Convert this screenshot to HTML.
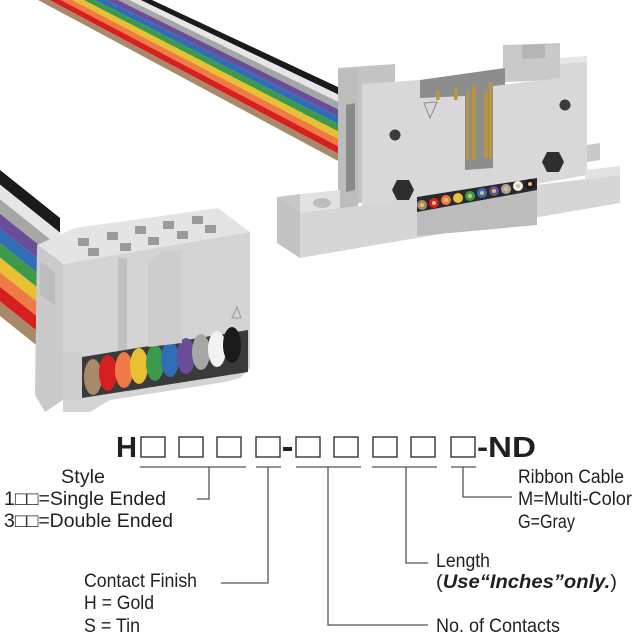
<!DOCTYPE html>
<html><head><meta charset="utf-8"><style>
html,body{margin:0;padding:0;background:#fff;}
svg{display:block;}
text{font-family:"Liberation Sans",Arial,sans-serif;fill:#231f20;}
</style></head><body>
<svg width="640" height="640" viewBox="0 0 640 640" xmlns="http://www.w3.org/2000/svg">
<!-- top cable -->
<g>
<polygon points="152,0 140.6,0 340,95.4 340,88" fill="#1a1a1a"/>
<polygon points="140.6,0 129.2,0 340,102.8 340,95.4" fill="#e6e6e6"/>
<polygon points="129.2,0 117.8,0 340,110.2 340,102.8" fill="#a6a6a6"/>
<polygon points="117.8,0 106.4,0 340,117.6 340,110.2" fill="#6b4c9a"/>
<polygon points="106.4,0 95,0 340,125 340,117.6" fill="#2f6db5"/>
<polygon points="95,0 83.6,0 340,132.4 340,125" fill="#3d9a4a"/>
<polygon points="83.6,0 72.2,0 340,139.8 340,132.4" fill="#e8c132"/>
<polygon points="72.2,0 60.8,0 340,147.2 340,139.8" fill="#ef7a45"/>
<polygon points="60.8,0 49.4,0 340,154.6 340,147.2" fill="#d81f1f"/>
<polygon points="49.4,0 38,0 340,162 340,154.6" fill="#a88a6a"/>
</g>
<!-- lower cable -->
<g>
<polygon points="0,170 0,184.6 60,232.6 60,218" fill="#1a1a1a"/>
<polygon points="0,184.6 0,199.2 60,247.2 60,232.6" fill="#e6e6e6"/>
<polygon points="0,199.2 0,213.8 60,261.8 60,247.2" fill="#a6a6a6"/>
<polygon points="0,213.8 0,228.4 60,276.4 60,261.8" fill="#6b4c9a"/>
<polygon points="0,228.4 0,243 60,291 60,276.4" fill="#2f6db5"/>
<polygon points="0,243 0,257.6 60,305.6 60,291" fill="#3d9a4a"/>
<polygon points="0,257.6 0,272.2 60,320.2 60,305.6" fill="#e8c132"/>
<polygon points="0,272.2 0,286.8 60,334.8 60,320.2" fill="#ef7a45"/>
<polygon points="0,286.8 0,301.4 60,349.4 60,334.8" fill="#d81f1f"/>
<polygon points="0,301.4 0,316 60,364 60,349.4" fill="#a88a6a"/>
</g>

<!-- right connector -->
<g>
<!-- right tower back -->
<polygon points="503,45 560,43 560,80 503,82" fill="#c9c9c9"/>
<polygon points="522,45 545,44 545,58 522,59" fill="#b5b5b5"/>
<!-- slot back wall -->
<polygon points="420,80 505,68 505,170 420,170" fill="#8d8d8d"/>
<!-- left tower -->
<polygon points="338,68 395,64 395,200 338,205" fill="#c4c4c4"/>
<polygon points="338,70 358,69 358,215 338,218" fill="#bdbdbd"/>
<polygon points="346,105 355,103 355,190 346,192" fill="#8a8a8a"/>
<!-- main front face -->
<polygon points="362,84 420,80 420,98 465,96 465,168 493,166 493,86 560,78 560,58 587,56 587,175 362,215" fill="#d8d8d8"/>
<polygon points="560,58 587,56 587,62 560,64" fill="#e6e6e6"/>
<!-- triangle -->
<polygon points="424,103 437,102 430,118" fill="none" stroke="#8a8a8a" stroke-width="1"/>
<!-- pins -->
<g fill="#b8953e">
<rect x="436" y="90" width="3.5" height="10"/><rect x="454" y="88" width="3.5" height="12"/>
<rect x="472" y="85" width="4" height="80"/><rect x="484" y="92" width="4" height="70"/>
<rect x="489" y="82" width="3.5" height="80"/><rect x="466" y="92" width="3" height="73"/>
</g>
<polygon points="465,160 493,158 493,168 465,170" fill="#8d8d8d"/>
<!-- holes -->
<circle cx="395" cy="135" r="5.5" fill="#3a3a3a"/>
<circle cx="565" cy="105" r="5.5" fill="#3a3a3a"/>
<polygon points="397,180 409,180 414,190 409,200 397,200 392,190" fill="#2e2e2e"/>
<polygon points="547,152 559,152 564,162 559,172 547,172 542,162" fill="#2e2e2e"/>
<!-- right flange riser -->
<polygon points="587,145 600,143 600,160 587,162" fill="#c8c8c8"/>
<!-- flange -->
<polygon points="277,197 300,194 300,240 277,243" fill="#c7c7c7"/>
<polygon points="300,194 340,190 340,210 300,213" fill="#e2e2e2"/>
<polygon points="300,213 620,175 620,203 300,258" fill="#d6d6d6"/>
<polygon points="300,213 277,197 277,243 300,258" fill="#c2c2c2"/>
<ellipse cx="322" cy="203" rx="9" ry="5" fill="#bdbdbd"/>
<polygon points="585,170 620,166 620,175 585,180" fill="#e2e2e2"/>
<!-- wire window -->
<polygon points="417,197 537,178 537,225 417,236" fill="#bcbcbc"/>
<polygon points="417,197 537,178 537,190 417,212" fill="#2a2a2a"/>
<g>
<circle cx="422" cy="205" r="5" fill="#a88a6a"/><circle cx="434" cy="203" r="5" fill="#d81f1f"/>
<circle cx="446" cy="200" r="5" fill="#ef7a45"/><circle cx="458" cy="198" r="5" fill="#e8c132"/>
<circle cx="470" cy="196" r="5" fill="#3d9a4a"/><circle cx="482" cy="193" r="5" fill="#2f6db5"/>
<circle cx="494" cy="191" r="5" fill="#6b4c9a"/><circle cx="506" cy="189" r="5" fill="#a6a6a6"/>
<circle cx="518" cy="186" r="5" fill="#f2f2f2"/><circle cx="530" cy="184" r="5" fill="#1a1a1a"/>
</g>
<g fill="#e0c070">
<circle cx="422" cy="205" r="2"/><circle cx="434" cy="203" r="2"/><circle cx="446" cy="200" r="2"/><circle cx="458" cy="198" r="2"/><circle cx="470" cy="196" r="2"/><circle cx="482" cy="193" r="2"/><circle cx="494" cy="191" r="2"/><circle cx="506" cy="189" r="2"/><circle cx="518" cy="186" r="2"/><circle cx="530" cy="184" r="2"/>
</g>
</g>

<!-- left connector -->
<g>
<polygon points="37,245 63,264 250,232 218,208 75,228" fill="#e4e4e4"/>
<g fill="#9a9a9a">
<rect x="78" y="238" width="11" height="8"/><rect x="107" y="232" width="11" height="8"/><rect x="135" y="226" width="11" height="8"/><rect x="163" y="221" width="11" height="8"/><rect x="192" y="216" width="11" height="8"/>
<rect x="88" y="248" width="11" height="8"/><rect x="120" y="243" width="11" height="8"/><rect x="148" y="237" width="11" height="8"/><rect x="177" y="231" width="11" height="8"/><rect x="205" y="225" width="11" height="8"/>
</g>
<polygon points="37,245 63,264 63,400 45,412 35,395" fill="#cacaca"/>
<polygon points="40,262 55,272 55,305 40,295" fill="#bdbdbd"/>
<polygon points="63,264 250,232 250,368 240,378 225,382 110,400 90,412 63,412" fill="#d4d4d4"/>
<rect x="118" y="258" width="9" height="100" fill="#c0c0c0"/>
<!-- wire slot -->
<polygon points="82,357 248,330 248,372 82,398" fill="#3a3a3a"/>
<g>
<ellipse cx="93" cy="377" rx="9" ry="18" fill="#a88a6a"/>
<ellipse cx="108" cy="373" rx="9" ry="18" fill="#d81f1f"/>
<ellipse cx="124" cy="370" rx="9" ry="18" fill="#ef7a45"/>
<ellipse cx="139" cy="366" rx="9" ry="18" fill="#e8c132"/>
<ellipse cx="155" cy="363" rx="9" ry="18" fill="#3d9a4a"/>
<ellipse cx="170" cy="359" rx="9" ry="18" fill="#2f6db5"/>
<ellipse cx="186" cy="356" rx="9" ry="18" fill="#6b4c9a"/>
<ellipse cx="201" cy="352" rx="9" ry="18" fill="#a6a6a6"/>
<ellipse cx="217" cy="349" rx="9" ry="18" fill="#f2f2f2"/>
<ellipse cx="232" cy="345" rx="9" ry="18" fill="#1a1a1a"/>
</g>
<polygon points="63,352 82,352 82,400 63,400" fill="#cfcfcf"/>
<!-- latch -->
<polygon points="148,264 163,250 182,250 182,343 148,347" fill="#cdcdcd"/>
<polygon points="232,318 237,307 241,318" fill="none" stroke="#999" stroke-width="1"/>
</g>

<!-- part number -->
<text x="116" y="457" font-size="29" font-weight="bold" textLength="21" lengthAdjust="spacingAndGlyphs">H</text>
<g fill="none" stroke="#333" stroke-width="1.4">
<rect x="141" y="437" width="24" height="20"/><rect x="179" y="437" width="24" height="20"/><rect x="217" y="437" width="24" height="20"/><rect x="256" y="437" width="24" height="20"/>
<rect x="296" y="437" width="24" height="20"/><rect x="334" y="437" width="24" height="20"/><rect x="373" y="437" width="24" height="20"/><rect x="411" y="437" width="24" height="20"/><rect x="451" y="437" width="24" height="20"/>
</g>
<rect x="283" y="447" width="9" height="4" fill="#231f20"/>
<text x="477" y="457" font-size="29" font-weight="bold" textLength="59" lengthAdjust="spacingAndGlyphs">-ND</text>

<g stroke="#555" stroke-width="1.3" fill="none">
<line x1="140" y1="467" x2="246" y2="467"/><line x1="256" y1="467" x2="281" y2="467"/>
<line x1="296" y1="467" x2="361" y2="467"/><line x1="372" y1="467" x2="437" y2="467"/><line x1="451" y1="467" x2="476" y2="467"/>
<polyline points="209,467 209,499 197,499"/>
<polyline points="268,467 268,583 221,583"/>
<polyline points="328,467 328,625 428,625"/>
<polyline points="406,467 406,563 428,563"/>
<polyline points="463,467 463,497 512,497"/>
</g>

<g font-size="19">
<text x="61" y="483" textLength="44" lengthAdjust="spacingAndGlyphs">Style</text>
<text x="4" y="505" textLength="162" lengthAdjust="spacingAndGlyphs">1□□=Single Ended</text>
<text x="4" y="527" textLength="169" lengthAdjust="spacingAndGlyphs">3□□=Double Ended</text>
<text x="84" y="587" textLength="113" lengthAdjust="spacingAndGlyphs">Contact Finish</text>
<text x="84" y="609" textLength="70" lengthAdjust="spacingAndGlyphs">H = Gold</text>
<text x="84" y="632" textLength="56" lengthAdjust="spacingAndGlyphs">S = Tin</text>
<text x="436" y="567" textLength="54" lengthAdjust="spacingAndGlyphs">Length</text>
<text x="436" y="588" textLength="181" lengthAdjust="spacingAndGlyphs">(<tspan font-weight="bold" font-style="italic">Use“Inches”only.</tspan>)</text>
<text x="436" y="632" textLength="124" lengthAdjust="spacingAndGlyphs">No. of Contacts</text>
<text x="518" y="483" textLength="106" lengthAdjust="spacingAndGlyphs">Ribbon Cable</text>
<text x="518" y="505" textLength="114" lengthAdjust="spacingAndGlyphs">M=Multi-Color</text>
<text x="518" y="528" textLength="57" lengthAdjust="spacingAndGlyphs">G=Gray</text>
</g>
</svg>
</body></html>
